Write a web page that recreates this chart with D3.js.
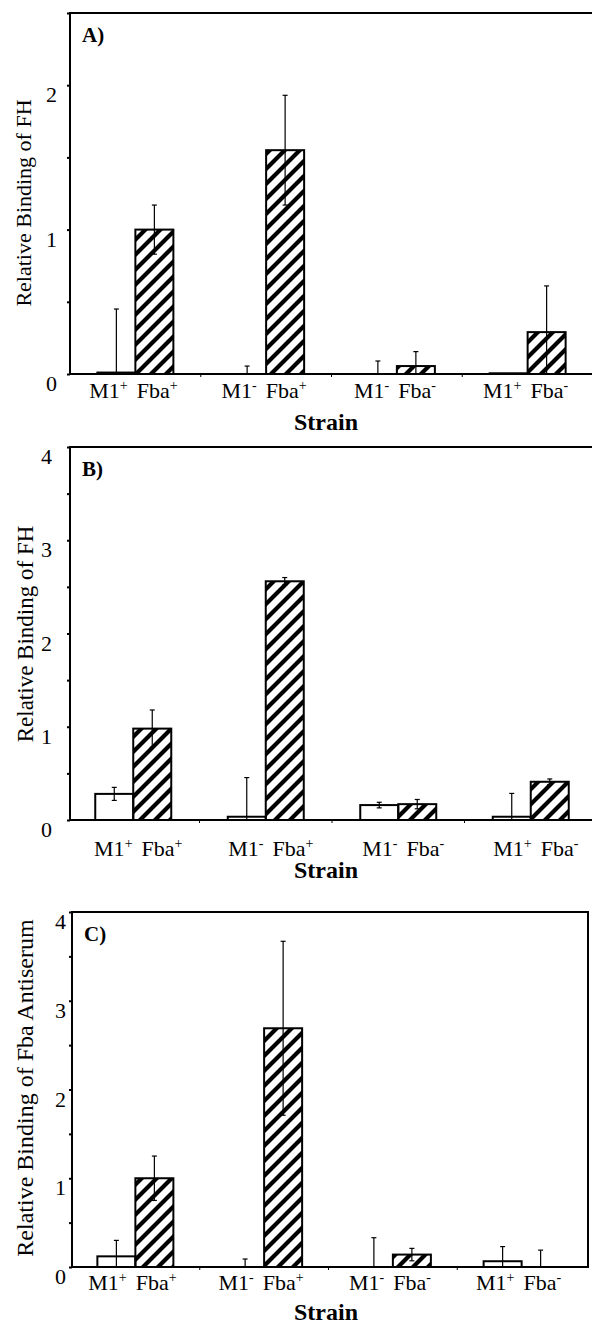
<!DOCTYPE html>
<html>
<head>
<meta charset="utf-8">
<script src="https://cdn.jsdelivr.net/npm/d3@7"></script>
<style>
body { margin: 0; background: #fff; }
text { font-family: "Liberation Serif", "Times New Roman", serif; fill: #000; }
</style>
</head>
<body>
<script>
// strain labels (superscript signs)
var strainM1 = ["+", "-", "-", "+"];
var strainFba = ["+", "+", "-", "-"];
var series = ["open", "hatched"];

// panel A - binding of FH
var aOpen = [0.01, 0, 0, 0.005];
var aOpenErr = [0.44, 0.055, 0.09, 0];
var aHatched = [1.0, 1.55, 0.055, 0.29];
var aHatchedErr = [0.17, 0.38, 0.1, 0.32];

// panel B - binding of FH
var bOpen = [0.28, 0.035, 0.16, 0.035];
var bOpenErr = [0.07, 0.42, 0.03, 0.25];
var bHatched = [0.98, 2.56, 0.17, 0.41];
var bHatchedErr = [0.2, 0.04, 0.05, 0.03];

// panel C - binding of Fba antiserum
var cOpen = [0.12, 0, 0, 0.065];
var cOpenErr = [0.18, 0.09, 0.33, 0.165];
var cHatched = [1.0, 2.69, 0.14, 0];
var cHatchedErr = [0.25, 0.98, 0.07, 0.19];

var yTicksA = [0, 1, 2];
var yTicksBC = [0, 1, 2, 3, 4];

var panels = [
    { letter: "A)", title: "Relative Binding of FH", open: aOpen, openErr: aOpenErr, hatched: aHatched, hatchedErr: aHatchedErr,
      ticks: yTicksA, yMax: 2.5, top: 13, bottom: 374, left: 70, right: 598, x0: 70, x1: 593,
      tickEnd: 57, titleX: 31, titleY: 203, titleSize: 22, labelY: 398, labelShift: -2, strainY: 430 },
    { letter: "B)", title: "Relative Binding of FH", open: bOpen, openErr: bOpenErr, hatched: bHatched, hatchedErr: bHatchedErr,
      ticks: yTicksBC, yMax: 4, top: 447, bottom: 820, left: 70, right: 598, x0: 67, x1: 597,
      tickEnd: 52, titleX: 33, titleY: 634, titleSize: 23, labelY: 856, labelShift: 5, strainY: 878 },
    { letter: "C)", title: "Relative Binding of Fba Antiserum", open: cOpen, openErr: cOpenErr, hatched: cHatched, hatchedErr: cHatchedErr,
      ticks: yTicksBC, yMax: 4, top: 912, bottom: 1267, left: 72, right: 588, x0: 71, x1: 586,
      tickEnd: 66, titleX: 33, titleY: 1088, titleSize: 24, labelY: 1290, labelShift: -3, strainY: 1320 }
];

var svg = d3.select("body").append("svg")
    .attr("width", 592)
    .attr("height", 1327)

// diagonal hatching
svg.append("defs").append("pattern")
    .attr("id", "hatch")
    .attr("patternUnits", "userSpaceOnUse")
    .attr("width", 15)
    .attr("height", 15)
    .append("path")
    .attr("d", "M-4,4 L4,-4 M0,15 L15,0 M11,19 L19,11")
    .attr("stroke", "#000")
    .attr("stroke-width", 4.2)

panels.forEach(drawPanel);

function drawPanel(p) {
    var g = svg.append("g");
    var groups = d3.range(4);

    var x = d3.scaleBand().domain(groups).range([p.x0, p.x1]);
    var step = x.bandwidth();
    var xs = d3.scaleBand().domain(series).range([step / 2 - 38, step / 2 + 38]);
    var y = d3.scaleLinear().domain([0, p.yMax]).range([p.bottom, p.top]);

    // frame
    g.append("rect")
        .attr("x", p.left)
        .attr("y", p.top)
        .attr("width", p.right - p.left)
        .attr("height", p.bottom - p.top)
        .attr("fill", "none")
        .attr("stroke", "#000")
        .attr("stroke-width", 2)

    // y axis, minor ticks every 0.5
    var yAxis = d3.axisLeft(y)
        .tickValues(d3.range(0, p.yMax + 0.01, 0.5))
        .tickSize(3)
        .tickFormat("");
    var ya = g.append("g").attr("transform", "translate(" + p.left + ",0)").call(yAxis);
    ya.select(".domain").remove();
    ya.selectAll("line").attr("stroke-width", 2);

    g.selectAll(".ytick").data(p.ticks).enter().append("text")
        .attr("x", p.tickEnd)
        .attr("y", function(d) { return y(d) + 17; })
        .attr("text-anchor", "end")
        .style("font-size", "22px")
        .text(function(d) { return d; })

    // x axis ticks at group boundaries
    g.selectAll(".xtick").data(groups.slice(1)).enter().append("line")
        .attr("x1", function(d) { return x(d); })
        .attr("x2", function(d) { return x(d); })
        .attr("y1", p.bottom)
        .attr("y2", p.bottom + 3)
        .attr("stroke", "#000")
        .attr("stroke-width", 1)

    // bars
    series.forEach(function(s) {
        var vals = s == "open" ? p.open : p.hatched;
        var errs = s == "open" ? p.openErr : p.hatchedErr;
        g.selectAll(".bar-" + s).data(groups.filter(function(i) { return vals[i] > 0; }))
            .enter().append("rect")
            .attr("x", function(i) { return x(i) + xs(s); })
            .attr("y", function(i) { return y(vals[i]); })
            .attr("width", xs.bandwidth())
            .attr("height", function(i) { return y(0) - y(vals[i]); })
            .attr("fill", s == "open" ? "#fff" : "url(#hatch)")
            .attr("stroke", "#000")
            .attr("stroke-width", 2)

        // error bars
        var eg = g.selectAll(".err-" + s).data(groups.filter(function(i) { return errs[i] > 0; }))
            .enter().append("g");
        var cx = function(i) { return x(i) + xs(s) + xs.bandwidth() / 2; };
        eg.append("line")
            .attr("x1", cx).attr("x2", cx)
            .attr("y1", function(i) { return y(Math.max(0, vals[i] - errs[i])); })
            .attr("y2", function(i) { return y(vals[i] + errs[i]); })
            .attr("stroke", "#000")
            .attr("stroke-width", 1.2)
        eg.append("line")
            .attr("x1", function(i) { return cx(i) - 2.5; })
            .attr("x2", function(i) { return cx(i) + 2.5; })
            .attr("y1", function(i) { return y(vals[i] + errs[i]); })
            .attr("y2", function(i) { return y(vals[i] + errs[i]); })
            .attr("stroke", "#000")
            .attr("stroke-width", 1.2)
        eg.filter(function(i) { return vals[i] - errs[i] > 0; }).append("line")
            .attr("x1", function(i) { return cx(i) - 2.5; })
            .attr("x2", function(i) { return cx(i) + 2.5; })
            .attr("y1", function(i) { return y(vals[i] - errs[i]); })
            .attr("y2", function(i) { return y(vals[i] - errs[i]); })
            .attr("stroke", "#000")
            .attr("stroke-width", 1.2)
    });

    // baseline redrawn over bars
    g.append("line")
        .attr("x1", p.left).attr("x2", p.right)
        .attr("y1", p.bottom).attr("y2", p.bottom)
        .attr("stroke", "#000")
        .attr("stroke-width", 2)

    // strain labels
    var lab = g.selectAll(".strain").data(groups).enter().append("text")
        .attr("x", function(i) { return x(i) + step / 2 + p.labelShift; })
        .attr("y", p.labelY)
        .attr("text-anchor", "middle")
        .style("font-size", "22px");
    lab.append("tspan").text("M1");
    lab.append("tspan").attr("dy", -8).style("font-size", "14px").text(function(i) { return strainM1[i]; });
    lab.append("tspan").attr("dy", 8).attr("dx", 9).text("Fba");
    lab.append("tspan").attr("dy", -8).style("font-size", "14px").text(function(i) { return strainFba[i]; });

    g.append("text")
        .attr("x", 326)
        .attr("y", p.strainY)
        .attr("text-anchor", "middle")
        .style("font-size", "24px")
        .style("font-weight", "bold")
        .text("Strain")

    g.append("text")
        .attr("transform", "translate(" + p.titleX + "," + p.titleY + ") rotate(-90)")
        .attr("text-anchor", "middle")
        .style("font-size", p.titleSize + "px")
        .text(p.title)

    g.append("text")
        .attr("x", p.left + 12)
        .attr("y", p.top + 29)
        .style("font-size", "21px")
        .style("font-weight", "bold")
        .text(p.letter)
}
</script>
</body>
</html>
